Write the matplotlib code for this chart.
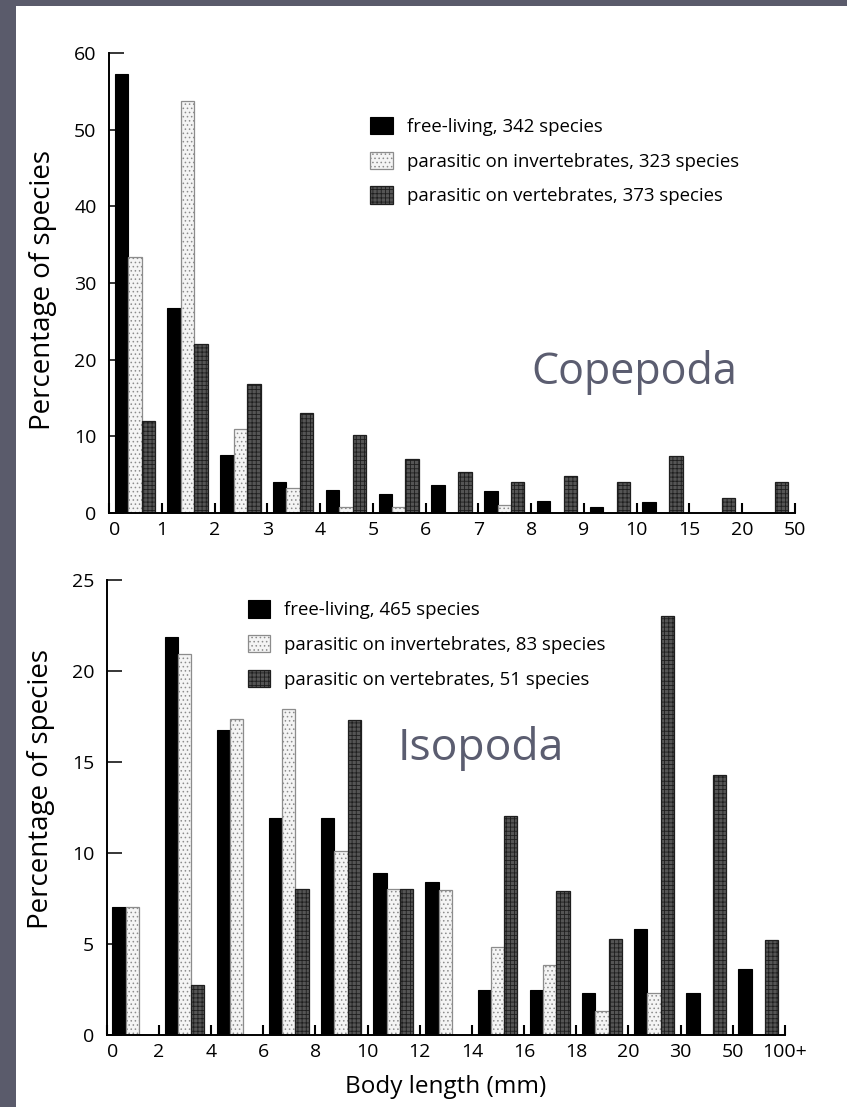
import matplotlib
matplotlib.use("Agg")
import matplotlib.pyplot as plt
import numpy as np

# Copepoda: percentage of species per body-length class
cop_bins = ["0", "1", "2", "3", "4", "5", "6", "7", "8", "9", "10", "15", "20", "50"]
cop_free = [57.3, 26.7, 7.5, 4.0, 3.0, 2.5, 3.7, 2.9, 1.6, 0.8, 1.4, 0, 0]
cop_invert = [33.4, 53.7, 11.0, 3.2, 0.8, 0.8, 0, 1.0, 0, 0, 0, 0, 0]
cop_vert = [12.0, 22.1, 16.8, 13.1, 10.2, 7.1, 5.3, 4.1, 4.8, 4.1, 7.4, 2.0, 4.0]
cop_labels = ["free-living, 342 species",
              "parasitic on invertebrates, 323 species",
              "parasitic on vertebrates, 373 species"]

# Isopoda
iso_bins = ["0", "2", "4", "6", "8", "10", "12", "14", "16", "18", "20", "30", "50", "100+"]
iso_free = [7.05, 21.85, 16.75, 11.9, 11.9, 8.9, 8.4, 2.5, 2.5, 2.3, 5.8, 2.3, 3.65]
iso_invert = [7.05, 20.95, 17.35, 17.9, 10.1, 8.0, 7.95, 4.85, 3.85, 1.3, 2.3, 0, 0]
iso_vert = [0, 2.75, 0, 8.0, 17.3, 8.0, 0, 12.05, 7.9, 5.3, 23.0, 14.3, 5.2]
iso_labels = ["free-living, 465 species",
              "parasitic on invertebrates, 83 species",
              "parasitic on vertebrates, 51 species"]

FONT = "Open Sans"
plt.rcParams["font.family"] = FONT
plt.rcParams["hatch.linewidth"] = 0.6

BAR_W = 0.255
OFFSETS = [0.235, 0.49, 0.745]
STYLES = [
    dict(facecolor="black", edgecolor="black", linewidth=0.8),
    dict(facecolor="#f4f4f4", edgecolor="#8c8c8c", linewidth=0.9, hatch="...."),
    dict(facecolor="#555555", edgecolor="#1e1e1e", linewidth=0.9, hatch="++++"),
]


def draw_panel(ax, series, labels, bins, ymax, ystep, legend_anchor, title, title_xy, ylabel_y):
    x = np.arange(len(series[0]))
    handles = []
    for vals, off, st, lab in zip(series, OFFSETS, STYLES, labels):
        h = ax.bar(x + off, vals, width=BAR_W, align="center", label=lab, **st)
        handles.append(h)

    ax.set_xlim(0, len(x))
    ax.set_ylim(0, ymax)
    ax.set_axisbelow(True)
    for side in ["top", "right"]:
        ax.spines[side].set_visible(False)
    for side in ["left", "bottom"]:
        ax.spines[side].set_linewidth(1.4)

    ax.set_xticks(np.arange(len(bins)))
    ax.set_xticklabels(bins)
    ax.set_yticks(np.arange(0, ymax + 1, ystep))
    ax.tick_params(axis="x", direction="in", length=7, width=1.5, pad=6, labelsize=14)
    ax.tick_params(axis="y", direction="in", length=11, width=1.1, pad=9, labelsize=14)
    ax.get_xticklabels()[0].set_horizontalalignment("left")

    ax.set_ylabel("Percentage of species", fontsize=20)
    ax.yaxis.set_label_coords(-0.076, ylabel_y)
    ax.legend(handles=handles, loc="center left", bbox_to_anchor=legend_anchor,
              frameon=False, fontsize=13.4, handlelength=1.2, handleheight=1.05,
              handletextpad=0.75, labelspacing=0.85, borderaxespad=0)
    ax.text(title_xy[0], title_xy[1], title, transform=ax.transAxes,
            fontsize=31, color="#5b5d70", ha="center", va="center")


fig = plt.figure(figsize=(8.47, 11.07), dpi=100)
fig.patch.set_facecolor("#5a5b6b")
# white page inset from the dark frame
fig.add_artist(plt.Rectangle((16 / 847, 0), 1, 1 - 6 / 1107,
                             transform=fig.transFigure, facecolor="white",
                             edgecolor="none", zorder=0))

ax1 = fig.add_axes([0.1287, 0.5366, 0.8099, 0.4155])
draw_panel(ax1, [cop_free, cop_invert, cop_vert], cop_labels, cop_bins,
           60, 10, (0.37, 0.765), "Copepoda", (0.766, 0.305), 0.485)

ax2 = fig.add_axes([0.126, 0.0650, 0.8008, 0.411])
draw_panel(ax2, [iso_free, iso_invert, iso_vert], iso_labels, iso_bins,
           25, 5, (0.197, 0.858), "Isopoda", (0.552, 0.63), 0.54)
ax2.texts[0].set_fontsize(32)
ax2.set_xlabel("Body length (mm)", fontsize=17.5, labelpad=10)

fig.savefig("out.png", dpi=100)
